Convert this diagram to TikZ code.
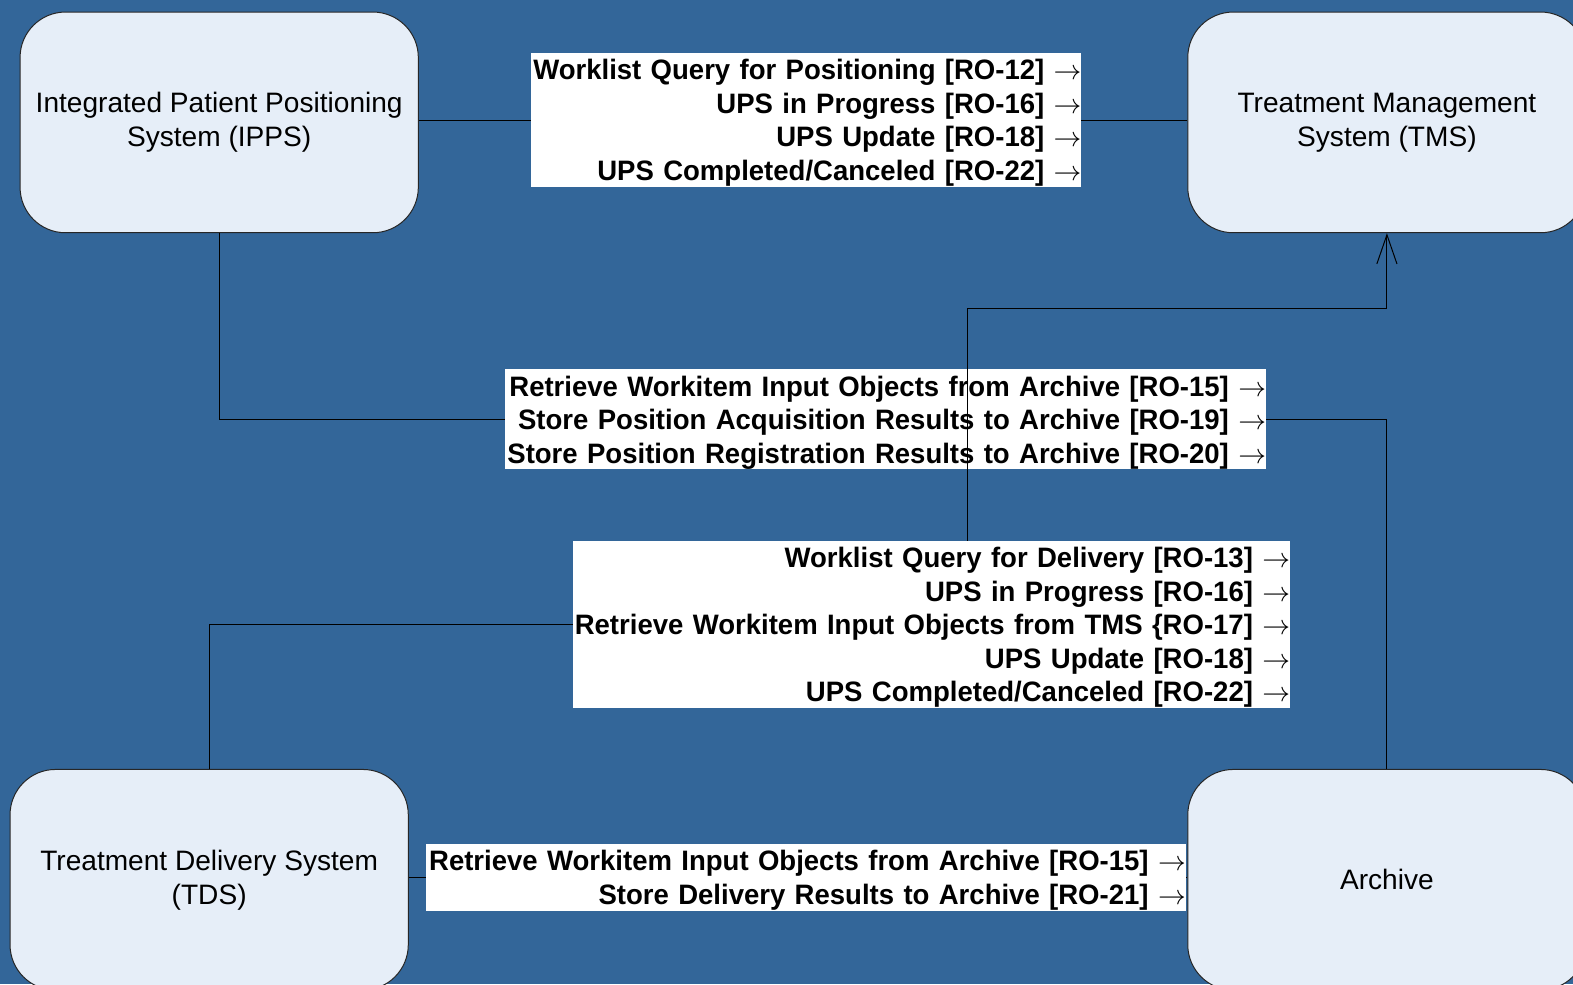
\documentclass[tikz,border=0pt]{standalone}
\usepackage{fontspec}
\setmainfont{Liberation Sans}
\newfontfamily\lblfont[FakeStretch=0.98]{Liberation Sans}
\usetikzlibrary{arrows.meta}
\definecolor{bg}{RGB}{51,102,153}
\definecolor{boxfill}{RGB}{230,238,248}
\newcommand\lblline[1]{\raisebox{-2.25pt}[\height][\depth]{\mbox{#1 $\rightarrow$}}}
\begin{document}
\begin{tikzpicture}[x=0.75pt,y=-0.75pt,
  sysbox/.style={draw=black!85, line width=0.75pt, fill=boxfill, rounded corners=34pt,
    minimum width=297.75pt, minimum height=165pt, align=center, inner sep=0pt,
    font=\fontsize{21}{25.5}\selectfont},
  lbl/.style={fill=white, inner sep=0pt, align=right,
    font=\fontsize{21}{25.05}\selectfont\lblfont\bfseries},
  conn/.style={draw=black, line width=0.75pt},
  tip/.style={-{Straight Barb[length=21.75pt,width=15pt]}},
]
\fill[bg] (0,0) rectangle (1568,981);
\useasboundingbox (0,0) rectangle (1568,981);

\node[sysbox] (ipps) at (218.5,122) {Integrated Patient Positioning\\System (IPPS)};
\node[sysbox] (tms) at (1382.5,122) {Treatment Management\\System (TMS)};
\node[sysbox] (tds) at (208.5,877) {Treatment Delivery System\\(TDS)};
\node[sysbox] (archive) at (1382.5,877) {Archive};

\coordinate (c1) at (1382.5,418);
\coordinate (k1) at (964,623);
\coordinate (k2) at (964,308);

\draw[conn] (ipps.east|-0,120) -- (tms.west|-0,120);
\draw[conn] (tds.east|-0,875) -- (archive.west|-0,875);
\draw[conn] (ipps.south) |- (c1) -- (archive.north);

\node[lbl, text width=411.75pt, minimum height=99.75pt] (l1) at (803.5,119.5)
  {\lblline{Worklist Query for Positioning [RO-12]}\\\lblline{UPS in Progress [RO-16]}\\\lblline{UPS Update [RO-18]}\\\lblline{UPS Completed/Canceled [RO-22]}};
\node[lbl, text width=567.75pt, minimum height=50.25pt] (l4) at (803.5,874.5)
  {\lblline{Retrieve Workitem Input Objects from Archive [RO-15]}\\\lblline{Store Delivery Results to Archive [RO-21]}};
\node[lbl, text width=569.25pt, minimum height=75pt] (l2) at (882.5,418)
  {\lblline{Retrieve Workitem Input Objects from Archive [RO-15]}\\\lblline{Store Position Acquisition Results to Archive [RO-19]}\\\lblline{Store Position Registration Results to Archive [RO-20]}};

\draw[conn, tip] (tds.north) |- (k1) -- (k2) -| (tms.south);

\node[lbl, text width=536.25pt, minimum height=125.25pt] (l3) at (928.5,622.5)
  {\lblline{Worklist Query for Delivery [RO-13]}\\\lblline{UPS in Progress [RO-16]}\\\lblline{Retrieve Workitem Input Objects from TMS \{RO-17]}\\\lblline{UPS Update [RO-18]}\\\lblline{UPS Completed/Canceled [RO-22]}};
\end{tikzpicture}
\end{document}
